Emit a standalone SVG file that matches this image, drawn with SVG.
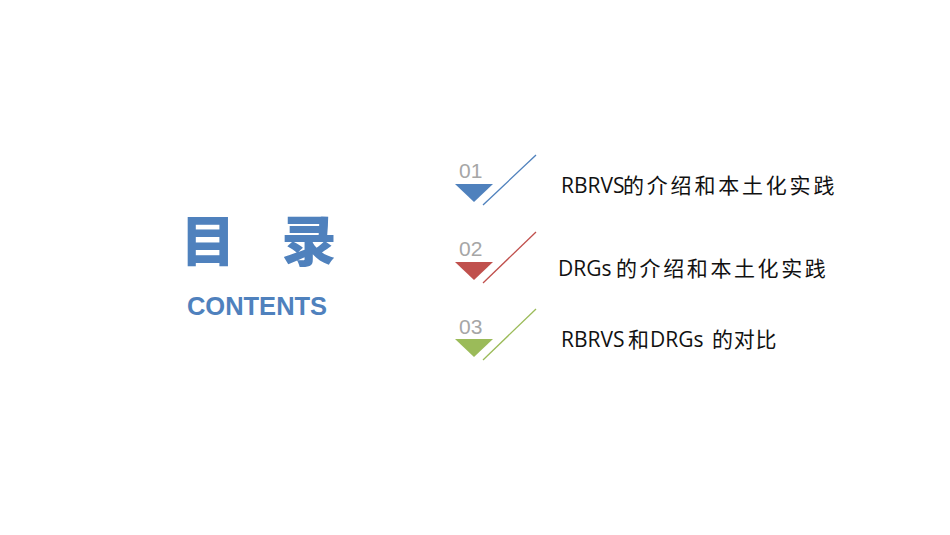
<svg xmlns="http://www.w3.org/2000/svg" width="950" height="535" viewBox="0 0 950 535">
<style>
.t{font-family:"Noto Sans CJK SC","Noto Sans",sans-serif;font-weight:900;fill:#4F81BD}
.num{font-family:"Liberation Sans",Arial,sans-serif;font-size:21px;fill:#A6A6A6}
.lbl{font-family:"Open Sans","Noto Sans CJK SC",sans-serif;font-size:21px;fill:#111111}
</style>
<rect width="950" height="535" fill="#FFFFFF"/>
<g id="title">
<text class="t" x="208" y="261" font-size="55" text-anchor="middle">目</text>
<text class="t" x="309" y="261" font-size="55" text-anchor="middle">录</text>
<text x="257" y="315" text-anchor="middle" font-family="'Liberation Sans',Arial,sans-serif" font-weight="bold" font-size="25.5" fill="#4F81BD">CONTENTS</text>
</g>
<g id="item1">
<text class="num" x="459" y="178">01</text>
<polygon points="455,184 493,184 474,202" fill="#4F81BD"/>
<line x1="483" y1="205" x2="536" y2="155" stroke="#4F81BD" stroke-width="1.3"/>
<text class="lbl" x="561" y="193">RBRVS<tspan x="623" letter-spacing="2.8">的介绍和本土化实践</tspan></text>
</g>
<g id="item2">
<text class="num" x="459" y="256">02</text>
<polygon points="455,262 493,262 474,280" fill="#C0504D"/>
<line x1="483" y1="283" x2="536" y2="232" stroke="#C0504D" stroke-width="1.3"/>
<text class="lbl" x="558" y="276">DRGs <tspan x="616" letter-spacing="2.6">的介绍和本土化实践</tspan></text>
</g>
<g id="item3">
<text class="num" x="459" y="334">03</text>
<polygon points="455,339 493,339 474,357" fill="#9BBB59"/>
<line x1="483" y1="360" x2="536" y2="309" stroke="#9BBB59" stroke-width="1.3"/>
<text class="lbl" x="561" y="347">RBRVS <tspan x="628">和</tspan><tspan x="650">DRGs </tspan><tspan x="712" letter-spacing="0.8">的对比</tspan></text>
</g>
</svg>
